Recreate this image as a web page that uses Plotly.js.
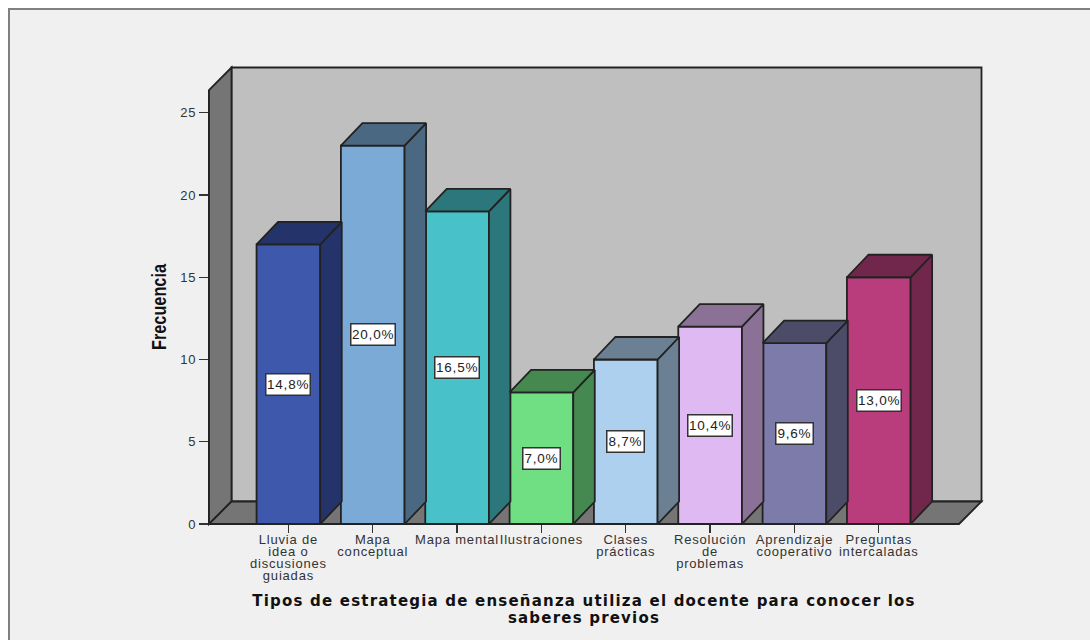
<!DOCTYPE html>
<html><head><meta charset="utf-8">
<script src="https://cdn.plot.ly/plotly-3.0.1.min.js"></script>
<style>
html,body{margin:0;padding:0;background:#fff;overflow:hidden;width:1090px;height:640px}
#frame{position:absolute;left:8px;top:8px;width:1100px;height:650px;background:#f0f0f0;border:2px solid #808080;box-sizing:border-box}
#chart{position:absolute;left:0;top:0;width:1090px;height:640px}
#chart .xtick text,#chart .ytick text{letter-spacing:.8px}
#chart .g-xtitle text{letter-spacing:1.2px}
#chart .g-xtitle{transform:translateY(-1px)}
#chart .annotation-text{letter-spacing:.8px}
</style></head><body>
<div id="frame"></div><div id="chart"></div>
<script>
const categories=["Lluvia de<br>idea o<br>discusiones<br>guiadas","Mapa<br>conceptual","Mapa mental","Ilustraciones","Clases<br>prácticas","Resolución<br>de<br>problemas","Aprendizaje<br>cooperativo","Preguntas<br>intercaladas"];
const frecuencia=[17,23,19,8,10,12,11,15];
const porcentajes=["14,8%","20,0%","16,5%","7,0%","8,7%","10,4%","9,6%","13,0%"];
const frontColors=["#3E58AC","#7CAAD6","#48C1C8","#70DE83","#ADD0EF","#DFB9F2","#7C7BAA","#B93D7C"];
const sideColors=["#24346A","#4B6883","#2C777B","#458951","#6B8093","#8A7195","#4C4C69","#71264C"];
const yTicks=[0,5,10,15,20,25];
const W=1090,H=640,L=209,R=959,T=90,B=524;
const pw=R-L,ph=B-T,pxU=84.34,pyU=16.45,depth=22.5;
const barW=0.755,hw=barW/2,ddx=21.5/pxU,ddy=depth/pyU;
const xr=[-79.4/pxU,(R-L-79.4)/pxU],yr=[0,ph/pyU];
const idx=categories.map((_,i)=>i);
const dark="#222222",lw=1.8;
const traces=[{type:"bar",x:idx,y:frecuencia,width:barW,marker:{color:frontColors,line:{color:dark,width:lw}},hoverinfo:"x+y",showlegend:false}];
idx.forEach(i=>{
  const v=frecuencia[i],x0=i-hw,x1=i+hw;
  traces.push({type:"scatter",mode:"lines",fill:"toself",fillcolor:sideColors[i],line:{color:dark,width:lw},showlegend:false,hoverinfo:"skip",
    x:[x1,x1+ddx,x1+ddx,x1,x1],y:[0,ddy,v+ddy,v,0]});
  traces.push({type:"scatter",mode:"lines",fill:"toself",fillcolor:sideColors[i],line:{color:dark,width:lw},showlegend:false,hoverinfo:"skip",
    x:[x0,x0+ddx,x1+ddx,x1,x0],y:[v,v+ddy,v+ddy,v,v]});
});
const dpx=depth/pw,dpy=depth/ph;
const wall=(pts,fill)=>({type:"path",xref:"paper",yref:"paper",layer:"below",fillcolor:fill,line:{color:dark,width:lw},
  path:"M"+pts.map(p=>p[0]+","+p[1]).join(" L")+" Z"});
const shapes=[
  wall([[dpx,dpy],[1+dpx,dpy],[1+dpx,1+dpy],[dpx,1+dpy]],"#BFBFBF"),
  wall([[0,0],[dpx,dpy],[dpx,1+dpy],[0,1]],"#757575"),
  wall([[0,0],[1,0],[1+dpx,dpy],[dpx,dpy]],"#757575")
];
const annotations=idx.map(i=>({x:i,y:frecuencia[i]/2,xref:"x",yref:"y",text:porcentajes[i],showarrow:false,bgcolor:"#fff",bordercolor:"#333",borderwidth:1.5,borderpad:2.5,font:{family:"Liberation Sans",size:13.5,color:"#222"}}));
const layout={width:W,height:H,margin:{l:L,r:W-R,t:T,b:H-B,pad:0},paper_bgcolor:"rgba(0,0,0,0)",plot_bgcolor:"rgba(0,0,0,0)",showlegend:false,
  xaxis:{range:xr,tickmode:"array",tickvals:idx,ticktext:categories,tickangle:0,ticks:"outside",ticklen:8,tickwidth:1.2,tickcolor:"#333",ticklabelstandoff:-5,showgrid:false,zeroline:false,showline:true,linecolor:dark,linewidth:1,
    tickfont:{family:"Liberation Sans",size:13,color:"#333"},automargin:false,
    title:{text:"Tipos de estrategia de enseñanza utiliza el docente para conocer los<br>saberes previos",standoff:0,font:{family:"DejaVu Sans",size:15,color:"#111",weight:700}}},
  yaxis:{range:yr,tickmode:"array",tickvals:yTicks,ticks:"outside",ticklen:9,tickwidth:1.2,tickcolor:"#333",showgrid:false,zeroline:false,showline:true,linecolor:dark,linewidth:1,
    tickfont:{family:"Liberation Sans",size:13,color:"#333"},automargin:false,
    title:{text:"Frecuencia",standoff:9,font:{family:"Liberation Sans",size:20,color:"#111",weight:700}}},
  shapes,annotations,bargap:0};
Plotly.newPlot("chart",traces,layout,{displayModeBar:false,staticPlot:true}).then(()=>{
  document.querySelectorAll("#chart .xtick text").forEach(t=>{
    t.querySelectorAll("tspan.line").forEach((s,i)=>s.setAttribute("dy",(i*12)+"px"));
  });
  document.querySelectorAll("#chart .g-xtitle text tspan.line").forEach((s,i)=>s.setAttribute("dy",(i*16.5)+"px"));
  const yt=document.querySelector("#chart .g-ytitle text");
  if(yt){yt.setAttribute("textLength","86");yt.setAttribute("lengthAdjust","spacingAndGlyphs");}
});
</script></body></html>
